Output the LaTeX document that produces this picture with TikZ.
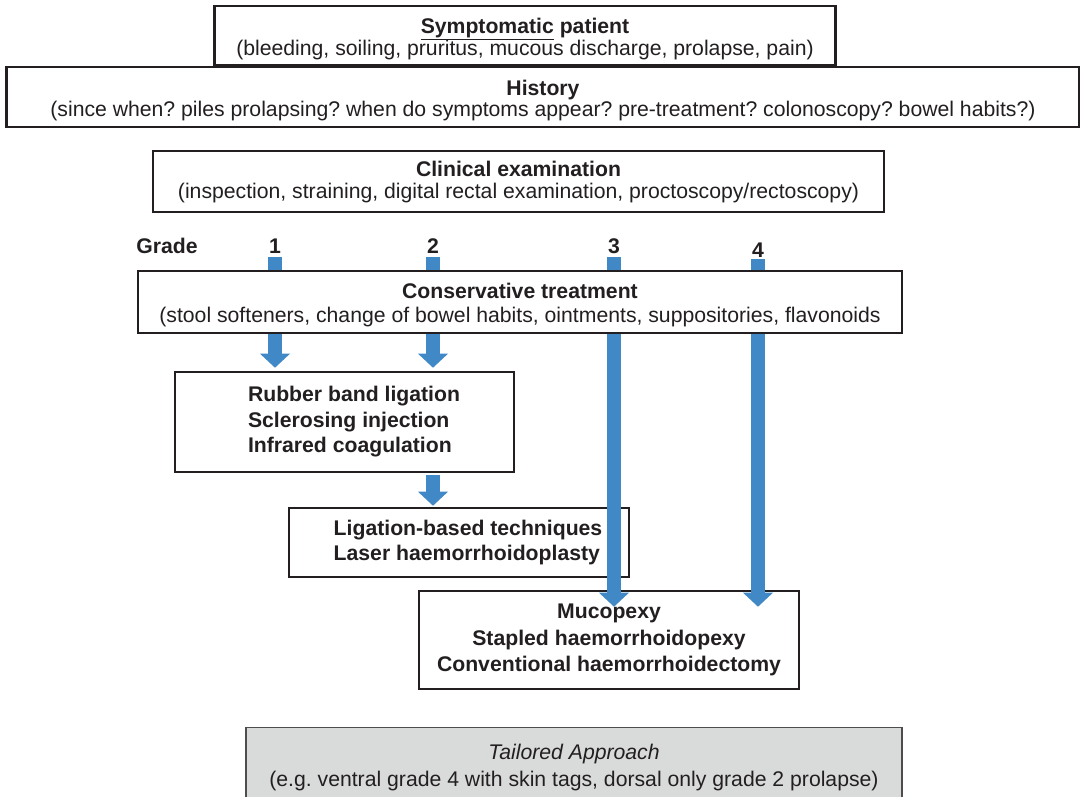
\documentclass[tikz,border=0pt]{standalone}
\usepackage{fontspec}
\setmainfont{Liberation Sans}
\usetikzlibrary{arrows.meta}
\definecolor{ink}{HTML}{231F20}
\definecolor{arrowblue}{HTML}{4188C6}
\definecolor{graybox}{HTML}{D9DBDA}
\newcommand\loweredtext[2]{\raisebox{-#1}[\height][\depth]{\begin{tabular}{@{}c@{}}#2\end{tabular}}}
\begin{document}
\frenchspacing
\begin{tikzpicture}[x=1pt,y=-1pt,
  box/.style={draw=ink, line width=2.6pt, fill=white, inner sep=0pt, align=center, text=ink},
  grayframe/.style={draw=ink!80, line width=1.4pt, fill=graybox, inner sep=0pt, align=center, text=ink},
  gradelabel/.style={inner sep=0pt, text=ink, font=\fontsize{21.2}{21}\selectfont\bfseries},
  flow/.style={draw=arrowblue, line width=14.5pt, -{Triangle[width=30pt,length=14pt,line width=0pt]}}
]
\useasboundingbox (0,0) rectangle (1080,796);

% lower boxes (arrows are drawn over them)
\node[box, minimum width=339pt, minimum height=100pt, font=\fontsize{21.2}{25.5}\selectfont\bfseries]
  (rubber) at (344.5,422) {\begin{tabular}{@{\hspace{19pt}}l@{}}Rubber band ligation\\Sclerosing injection\\Infrared coagulation\end{tabular}};
\node[box, minimum width=340pt, minimum height=69pt, font=\fontsize{21.2}{25}\selectfont\bfseries]
  (lig) at (459,542.5) {\begin{tabular}{@{\hspace{18pt}}l@{}}Ligation-based techniques\\Laser haemorrhoidoplasty\end{tabular}};
\node[box, minimum width=380pt, minimum height=98pt, font=\fontsize{21.2}{26.5}\selectfont\bfseries]
  (muco) at (609,640) {Mucopexy\\Stapled haemorrhoidopexy\\Conventional haemorrhoidectomy};

% grade labels
\node[gradelabel] (grade) at (167,246) {Grade};
\node[gradelabel] (g1) at (275,246.5) {1};
\node[gradelabel] (g2) at (433,246.5) {2};
\node[gradelabel] (g3) at (614,246.5) {3};
\node[gradelabel] (g4) at (758,250) {4};

% arrows
\draw[flow, shorten <=3pt, shorten >=3pt] (g1.south) -- (g1.south |- rubber.north);
\draw[flow, shorten <=3pt, shorten >=3pt] (g2.south) -- (g2.south |- rubber.north);
\draw[flow, shorten <=1.3pt, shorten >=1pt] (rubber.south -| g2) -- (lig.north -| g2);
\draw[flow, shorten <=3pt, shorten >=-17pt] (g3.south) -- (g3.south |- muco.north);
\draw[flow, shorten <=1.5pt, shorten >=-17pt] (g4.south) -- (g4.south |- muco.north);

% upper boxes
\node[box, minimum width=621pt, minimum height=59pt, font=\fontsize{21.2}{20}\selectfont]
  (symp) at (525,35.5) {\loweredtext{4pt}{\textbf{\underline{Symptomatic} patient}\\(bleeding, soiling, pruritus, mucous discharge, prolapse, pain)}};
\node[box, minimum width=1073pt, minimum height=60pt, font=\fontsize{21.2}{20}\selectfont]
  (hist) at (543,97) {\loweredtext{4pt}{\textbf{History}\\(since when? piles prolapsing? when do symptoms appear? pre-treatment? colonoscopy? bowel habits?)}};
\node[box, minimum width=731pt, minimum height=61pt, font=\fontsize{21.2}{22}\selectfont]
  (clin) at (518.5,181.5) {\loweredtext{2pt}{\textbf{Clinical examination}\\(inspection, straining, digital rectal examination, proctoscopy/rectoscopy)}};
\node[box, minimum width=764pt, minimum height=62pt, font=\fontsize{21.2}{24}\selectfont]
  (cons) at (520,302) {\loweredtext{3.5pt}{\textbf{Conservative treatment}\\(stool softeners, change of bowel habits, ointments, suppositories, flavonoids}};

\node[grayframe, minimum width=656pt, minimum height=80pt, anchor=north, font=\fontsize{21.2}{27}\selectfont]
  (tail) at (574,727) {\textit{Tailored Approach}\\(e.g. ventral grade 4 with skin tags, dorsal only grade 2 prolapse)};
\end{tikzpicture}
\end{document}
